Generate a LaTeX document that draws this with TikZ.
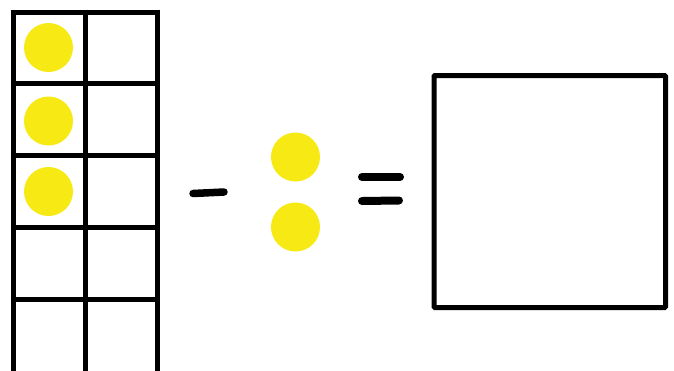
\documentclass[tikz,border=0pt]{standalone}
\usepackage{xcolor}
\definecolor{dotyellow}{RGB}{246,233,20}
\usetikzlibrary{positioning}
\tikzset{
    counter/.style={circle, fill=dotyellow, minimum size=49pt, inner sep=0pt},
    framelines/.style={line width=5pt, black},
    signstroke/.style={line width=7.5pt, line cap=round, black}
}
\begin{document}
\begin{tikzpicture}[x=1pt, y=-1pt]
    \useasboundingbox (0,0) rectangle (674,370);
    \begin{scope}
    \clip (0,0) rectangle (674,370);
    % Ten frame, two columns, five rows
    \foreach \yy in {12.5,83.5,155.5,227.5,299.5}
        \draw[framelines] (10.5,\yy) -- (159.5,\yy);
    \foreach \xx in {13,85,157}
        \draw[framelines] (\xx,10) -- (\xx,380);
    \end{scope}
    % Counters in the frame
    \node[counter] (c1) at (48.5,47.5) {};
    \node[counter] (c2) at (48.5,121) {};
    \node[counter] (c3) at (48.5,191.5) {};
    % Minus sign
    \coordinate (mleft) at (193,193.5);
    \coordinate (mright) at (224,192);
    \draw[signstroke] (mleft) -- (mright);
    % Counters taken away
    \node[counter] (t1) at (295.5,157) {};
    \node[counter] (t2) at (295.5,227) {};
    % Equals sign
    \coordinate (etl) at (362,177);
    \coordinate (etr) at (400,177);
    \coordinate (ebl) at (362,201);
    \coordinate (ebr) at (399,200.5);
    \draw[signstroke, line width=8pt] (etl) -- (etr);
    \draw[signstroke, line width=8pt] (ebl) -- (ebr);
    % Answer box
    \node[draw, line width=5pt, rounded corners=1pt, minimum width=231.5pt,
          minimum height=232pt, inner sep=0pt] (answer) at (549.75,191.5) {};
\end{tikzpicture}
\end{document}
